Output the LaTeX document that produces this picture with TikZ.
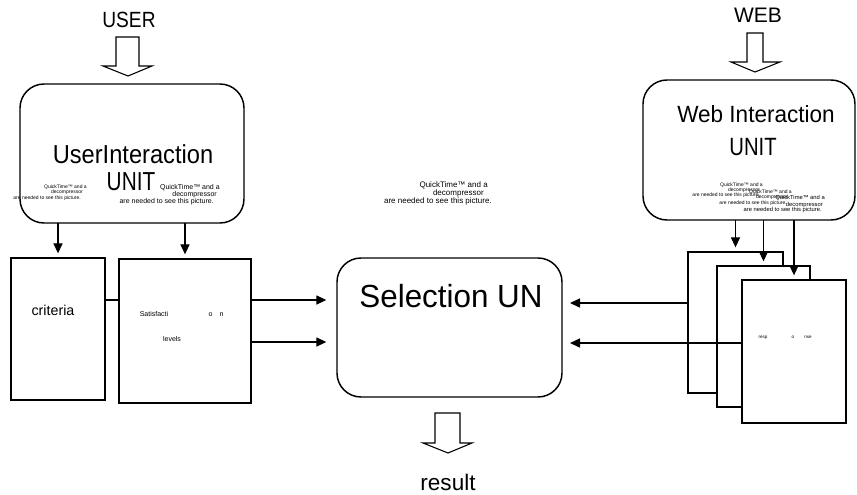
\documentclass[tikz,border=0pt]{standalone}
\usepackage{fontspec}
\setmainfont{Liberation Sans}
\usetikzlibrary{arrows.meta,calc}
\newcommand\qtl[5]{\node[font=\fontsize{#4}{#4}\selectfont, anchor=base east, inner sep=0pt] (#1) at (#2,#3) {#5};}
\newcommand\fs[1]{\fontsize{#1}{#1}\selectfont}
\begin{document}
\begin{tikzpicture}[x=0.75pt,y=-0.75pt,
  unitbox/.style={draw, line width=1.1pt, rounded corners=18pt, inner sep=0pt, outer sep=0pt},
  sqbox/.style={draw, line width=1.1pt, fill=white, inner sep=0pt, outer sep=0pt},
  arr/.style={-{Triangle[width=6.8pt,length=7.5pt]}, line width=0.9pt},
  plain/.style={line width=0.9pt},
  hollow/.style={draw, line width=0.8pt, fill=white, line join=miter},
  txt/.style={anchor=base, inner sep=0pt}]
\useasboundingbox (0,0) rectangle (857,494);

% main boxes
\node[unitbox, minimum width=168pt, minimum height=104.25pt] (user) at (132,153.5) {};
\node[unitbox, minimum width=159pt, minimum height=105pt] (web) at (749,150) {};
\node[unitbox, minimum width=168.75pt, minimum height=104.25pt] (sel) at (449.5,327.5) {};
\node[sqbox, minimum width=70.5pt, minimum height=106.5pt] (crit) at (58,329) {};
\node[sqbox, minimum width=99pt, minimum height=108pt] (sat) at (185,331) {};
\node[sqbox, minimum width=71.25pt, minimum height=105.75pt] (st1) at (735.5,322.5) {};
\node[sqbox, minimum width=69.75pt, minimum height=105.75pt] (st2) at (763.5,336.5) {};
\node[sqbox, minimum width=78pt, minimum height=107.25pt] (st3) at (794,351.5) {};

% hollow block arrows
\draw[hollow] (116,37) -- (139,37) -- (139,66) -- (152,66) -- (128,76) -- (103,66) -- (116,66) -- cycle;
\draw[hollow] (747,33) -- (763,33) -- (763,62) -- (780,62) -- (755,72) -- (731,62) -- (747,62) -- cycle;
\draw[hollow] (435,413) -- (460,413) -- (460,443) -- (472,443) -- (448,453) -- (423,443) -- (435,443) -- cycle;

% titles
\node[txt, font=\fs{16.5pt}] (usert) at (129,27) {\scalebox{0.87}[1]{USER}};
\node[txt, font=\fs{15.75pt}] (webt) at (758,22) {WEB};
\node[txt, font=\fs{19.5pt}] (uia) at (133,163) {\scalebox{0.91}[1]{UserInteraction}};
\node[txt, font=\fs{19.5pt}] (uib) at (131,190) {\scalebox{0.8}[1]{UNIT}};
\node[txt, font=\fs{17.6pt}] (wia) at (756,122) {\scalebox{0.96}[1]{Web Interaction}};
\node[txt, font=\fs{18.75pt}] (wib) at (753,155) {\scalebox{0.81}[1]{UNIT}};
\node[txt, font=\fs{24pt}] (selt) at (451,307) {\scalebox{0.98}[1]{Selection UN}};
\node[txt, font=\fs{16.9pt}] (rest) at (448,490) {result};
\node[txt, font=\fs{10.7pt}] (critt) at (53,315) {criteria};
\node[txt, font=\fs{5.25pt}] (sata) at (154,316) {Satisfacti};
\node[txt, font=\fs{5.25pt}] (satb) at (216,316) {o\quad n};
\node[txt, font=\fs{5.25pt}] (satc) at (172,341) {levels};
\node[txt, font=\fs{3.4pt}] (respa) at (763,338) {resp};
\node[txt, font=\fs{3.4pt}] (respb) at (793,338) {o};
\node[txt, font=\fs{3.4pt}] (respc) at (808,338) {nse};

% QuickTime placeholders
\qtl{qca}{488}{187}{6pt}{QuickTime™ and a}
\qtl{qcb}{484}{195}{6pt}{decompressor}
\qtl{qcc}{492}{203}{6pt}{are needed to see this picture.}
\qtl{qla}{87}{188}{3.75pt}{QuickTime™ and a}
\qtl{qlb}{83}{193}{3.75pt}{decompressor}
\qtl{qlc}{81}{199}{3.75pt}{are needed to see this picture.}
\qtl{qra}{220}{189.5}{5.25pt}{QuickTime™ and a}
\qtl{qrb}{217}{196.5}{5.25pt}{decompressor}
\qtl{qrc}{214}{203.5}{5.25pt}{are needed to see this picture.}
\qtl{qwa}{763}{186}{3.75pt}{QuickTime™ and a}
\qtl{qwb}{760}{191}{3.75pt}{decompressor}
\qtl{qwc}{760}{196}{3.75pt}{are needed to see this picture.}
\qtl{qxa}{792}{193}{3.75pt}{QuickTime™ and a}
\qtl{qxb}{788}{198}{3.75pt}{decompressor}
\qtl{qxc}{787}{204}{3.75pt}{are needed to see this picture.}
\qtl{qya}{825}{199}{4.35pt}{QuickTime™ and a}
\qtl{qyb}{823}{206}{4.35pt}{decompressor}
\qtl{qyc}{822}{211}{4.35pt}{are needed to see this picture.}

% rows
\coordinate (r1) at (0,300);
\coordinate (r2) at (0,342);
\coordinate (r3) at (0,303);
\coordinate (r4) at (0,343);

% connectors
\draw[arr, shorten >=3.5pt] (user.south -| crit.north) -- (crit.north);
\draw[arr, shorten >=3.5pt] (user.south -| sat.north) -- (sat.north);
\draw[plain] (crit.east |- r1) -- (sat.west |- r1);
\draw[arr, shorten >=8pt] (sat.east |- r1) -- (sel.west |- r1);
\draw[arr, shorten >=8pt] (sat.east |- r2) -- (sel.west |- r2);
\draw[arr, shorten >=6pt] (st1.west |- r3) -- (sel.east |- r3);
\draw[arr, shorten >=6pt] (st3.west |- r4) -- (sel.east |- r4);
\draw[arr, shorten >=3.5pt] (web.south -| st1.north) -- (st1.north);
\draw[arr, shorten >=3.5pt] (web.south -| st2.north) -- (st2.north);
\draw[arr, shorten >=3.5pt] (web.south -| st3.north) -- (st3.north);
\end{tikzpicture}
\end{document}
